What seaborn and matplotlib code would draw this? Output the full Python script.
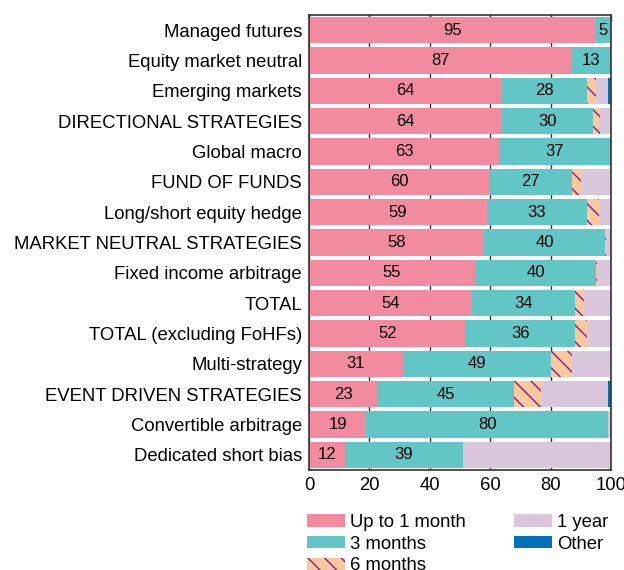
import numpy as np
import pandas as pd
import matplotlib.pyplot as plt
from matplotlib.patches import Patch
import seaborn as sns

strategies = [
    "Managed futures", "Equity market neutral", "Emerging markets",
    "DIRECTIONAL STRATEGIES", "Global macro", "FUND OF FUNDS",
    "Long/short equity hedge", "MARKET NEUTRAL STRATEGIES",
    "Fixed income arbitrage", "TOTAL", "TOTAL (excluding FoHFs)",
    "Multi-strategy", "EVENT DRIVEN STRATEGIES", "Convertible arbitrage",
    "Dedicated short bias",
]
up_to_1m = [95, 87, 64, 64, 63, 60, 59, 58, 55, 54, 52, 31, 23, 19, 12]
three_m = [5, 13, 28, 30, 37, 27, 33, 40, 40, 34, 36, 49, 45, 80, 39]
six_m = [0, 0, 3, 2.5, 0, 3, 4, 0.3, 0.5, 3, 4, 7, 9, 0, 0]
one_y = [0, 0, 4, 3.5, 0, 10, 4, 1.7, 4.5, 9, 8, 13, 22, 1, 49]
other = [0, 0, 1, 0, 0, 0, 0, 0, 0, 0, 0, 0, 1, 0, 0]

labels = ["Up to 1 month", "3 months", "6 months", "1 year", "Other"]
colors = ["#F38BA0", "#63C6C6", "#FAC9A0", "#DBC7DB", "#0070B8"]
hatch_color = "#8B2A8B"


def main():
    sns.set_style("white")
    plt.rcParams["font.family"] = ["Liberation Sans", "DejaVu Sans"]
    plt.rcParams["hatch.linewidth"] = 1.1
    plt.rcParams["text.color"] = "black"
    plt.rcParams["xtick.labelcolor"] = "black"
    plt.rcParams["ytick.labelcolor"] = "black"

    df = pd.DataFrame({
        "strategy": strategies,
        "Up to 1 month": up_to_1m,
        "3 months": three_m,
        "6 months": six_m,
        "1 year": one_y,
        "Other": other,
    })
    cum = df[labels].cumsum(axis=1)
    cum["strategy"] = df["strategy"]

    fig = plt.figure(figsize=(6.24, 5.70), dpi=100)
    ax = fig.add_axes([0.4952, 0.1754, 0.979 - 0.4952, 0.9737 - 0.1754])

    # draw cumulative layers from the widest to the narrowest
    for lab, col in reversed(list(zip(labels, colors))):
        kw = dict(linewidth=0)
        if lab == "6 months":
            kw.update(hatch="\\\\", edgecolor=hatch_color)
        sns.barplot(data=cum, x=lab, y="strategy", orient="h", order=strategies,
                    color=col, saturation=1, width=0.87, ax=ax, zorder=2, **kw)

    for i, (p, t) in enumerate(zip(up_to_1m, three_m)):
        ax.text(p / 2, i, f"{p}", ha="center", va="center", fontsize=12,
                color="black", zorder=5)
        ax.text(p + t / 2, i, f"{t}", ha="center", va="center", fontsize=12,
                color="black", zorder=5)

    ax.set_xlim(0, 100)
    ax.set_xticks(np.arange(0, 101, 20))
    ax.set_xlabel("")
    ax.set_ylabel("")
    ax.grid(axis="x", color="#333333", linewidth=1)
    ax.grid(axis="y", visible=False)
    ax.set_axisbelow(True)
    ax.tick_params(axis="x", direction="in", top=True, length=4, width=1,
                   color="#333333", labelcolor="black", labelsize=13.3, pad=5)
    ax.tick_params(axis="y", length=0, labelcolor="black", labelsize=13.3, pad=5)
    for s in ax.spines.values():
        s.set_color("#333333")
        s.set_linewidth(1.2)

    handles = []
    for lab, col in zip(labels, colors):
        if lab == "6 months":
            handles.append(Patch(facecolor=col, edgecolor=hatch_color, hatch="\\\\",
                                 linewidth=0, label=lab))
        else:
            handles.append(Patch(facecolor=col, linewidth=0, label=lab))
    fig.legend(handles=handles, ncol=2, loc="upper left",
               bbox_to_anchor=(307 / 624, 1 - 514 / 570), frameon=False,
               fontsize=13.3, handlelength=2.04, handleheight=0.65,
               handletextpad=0.27, columnspacing=2.65, labelspacing=0.25,
               borderpad=0, borderaxespad=0)

    fig.savefig("out.png", dpi=100)


if __name__ == "__main__":
    main()
